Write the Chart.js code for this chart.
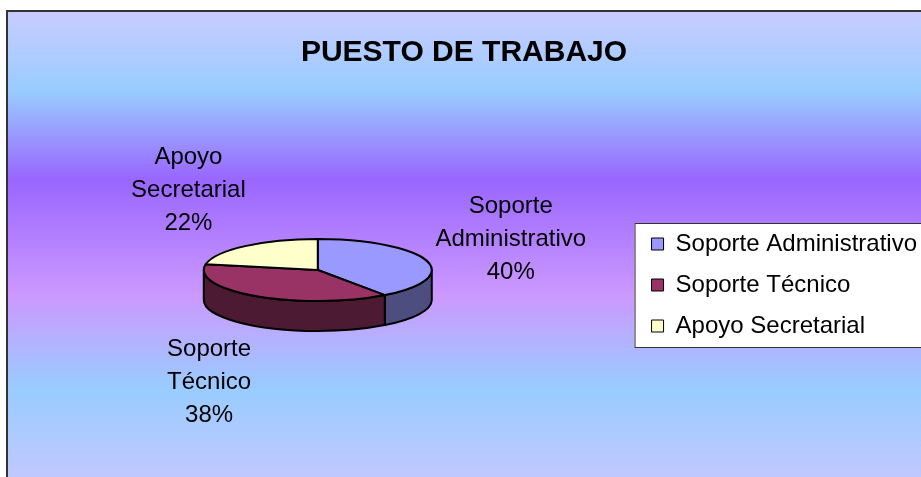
<!DOCTYPE html>
<html>
<head>
<meta charset="utf-8">
<script src="https://cdn.jsdelivr.net/npm/chart.js@4/dist/chart.umd.min.js"></script>
<style>
  body { margin: 0; background: #fff; }
</style>
</head>
<body>
<canvas id="chart" width="921" height="477"></canvas>
<script>
const categories = ["Soporte Administrativo", "Soporte Técnico", "Apoyo Secretarial"];
const shares = [40, 38, 22];
const topColors = ["#9999ff", "#993366", "#ffffcc"];
const sideColors = ["#4d4d80", "#4d1a33", "#80805f"];
const chartTitle = "PUESTO DE TRABAJO";

const family = "'Liberation Sans', Arial, sans-serif";

const chartCanvas =
    document.getElementById("chart");


// gradient fill, frame and the white legend box
const background = {
    id: "background",
    beforeDraw(chart) {
        const ctx = chart.ctx;
        const w = chart.width;
        const h = chart.height;

        ctx.save();
        ctx.fillStyle = "#fff";
        ctx.fillRect(0, 0, w, h);

        const g = ctx.createLinearGradient(0, 12, 0, h);
        g.addColorStop(0.00, "#c8ccff");
        g.addColorStop(0.17, "#99ccff");
        g.addColorStop(0.36, "#9966ff");
        g.addColorStop(0.61, "#cc99ff");
        g.addColorStop(0.81, "#99ccff");
        g.addColorStop(1.00, "#c0c8ff");
        ctx.fillStyle = g;
        ctx.fillRect(8, 12, w - 8, h - 12);

        ctx.strokeStyle = "#333";
        ctx.lineWidth = 2;
        ctx.beginPath();
        ctx.moveTo(7, h);
        ctx.lineTo(7, 11);
        ctx.lineTo(w, 11);
        ctx.stroke();

        const lg = chart.legend;
        const boxes = lg.legendHitBoxes;
        if (boxes && boxes.length) {
            const first = boxes[0];
            const last = boxes[boxes.length - 1];
            const x = lg.left;
            const y = first.top - 9;
            const yb = last.top + last.height + 9;
            ctx.fillStyle = "#fff";
            ctx.fillRect(x, y, w - x + 5, yb - y);
            ctx.strokeStyle = "#333";
            ctx.lineWidth = 1;
            ctx.strokeRect(x + 0.5, y + 0.5, w - x + 5, yb - y);
        }
        ctx.restore();
    }
};


// flattened pie with a rim, drawn from the arc elements
const pie3d = {
    id: "pie3d",
    beforeDatasetsDraw(chart) {
        const ctx = chart.ctx;
        const arcs = chart.getDatasetMeta(0).data;
        const values = chart.data.datasets[0].data;
        const total = values.reduce((a, b) => a + b, 0);

        const r = arcs[0].outerRadius;
        const ry = r * 0.272;
        const depth = r * 0.263;
        const cx = arcs[0].x;
        const cy = arcs[0].y - depth / 2;

        ctx.save();
        ctx.lineWidth = 2;
        ctx.strokeStyle = "#000";
        ctx.lineJoin = "round";

        arcs.forEach((a, i) => {
            const s = Math.max(a.startAngle, 0);
            const e = Math.min(a.endAngle, Math.PI);
            if (e <= s) return;
            ctx.beginPath();
            ctx.ellipse(cx, cy, r, ry, 0, s, e);
            ctx.lineTo(cx + r * Math.cos(e), cy + depth + ry * Math.sin(e));
            ctx.ellipse(cx, cy + depth, r, ry, 0, e, s, true);
            ctx.closePath();
            ctx.fillStyle = sideColors[i];
            ctx.fill();
            ctx.stroke();
        });

        arcs.forEach((a, i) => {
            ctx.beginPath();
            ctx.moveTo(cx, cy);
            ctx.ellipse(cx, cy, r, ry, 0, a.startAngle, a.endAngle);
            ctx.closePath();
            ctx.fillStyle = topColors[i];
            ctx.fill();
            ctx.stroke();
        });

        ctx.fillStyle = "#000";
        ctx.font = "24px " + family;
        ctx.textAlign = "center";
        ctx.textBaseline = "middle";

        arcs.forEach((a, i) => {
            const m = (a.startAngle + a.endAngle) / 2;
            const lx = cx + 1.78 * r * Math.cos(m);
            let ly = cy + 0.93 * r * Math.sin(m) + 2;
            if (Math.sin(m) > 0) ly += depth * 0.7;
            const lines = categories[i].split(" ");
            lines.push(Math.round(values[i] / total * 100) + "%");
            lines.forEach((t, k) => {
                ctx.fillText(t, lx, ly + (k - 1) * 33);
            });
        });

        ctx.restore();
        return false;
    }
};


new Chart(chartCanvas, {

    type: "pie",

    data: {
        labels: categories,
        datasets: [{
            data: shares,
            backgroundColor: topColors,
            borderColor: "#000",
            borderWidth: 1,
            radius: 114
        }]
    },

    options: {
        responsive: false,
        animation: false,
        layout: {
            padding: { left: 1, right: -6, top: 12, bottom: 0 }
        },
        plugins: {
            title: {
                display: true,
                text: chartTitle,
                color: "#000",
                font: { family: family, size: 30, weight: "bold" },
                padding: { top: 23, bottom: 22 }
            },
            legend: {
                position: "right",
                fullSize: false,
                labels: {
                    color: "#000",
                    font: { family: family, size: 24 },
                    boxWidth: 12,
                    boxHeight: 12,
                    padding: 17
                }
            },
            tooltip: { enabled: false }
        }
    },

    plugins: [background, pie3d]
});
</script>
</body>
</html>
